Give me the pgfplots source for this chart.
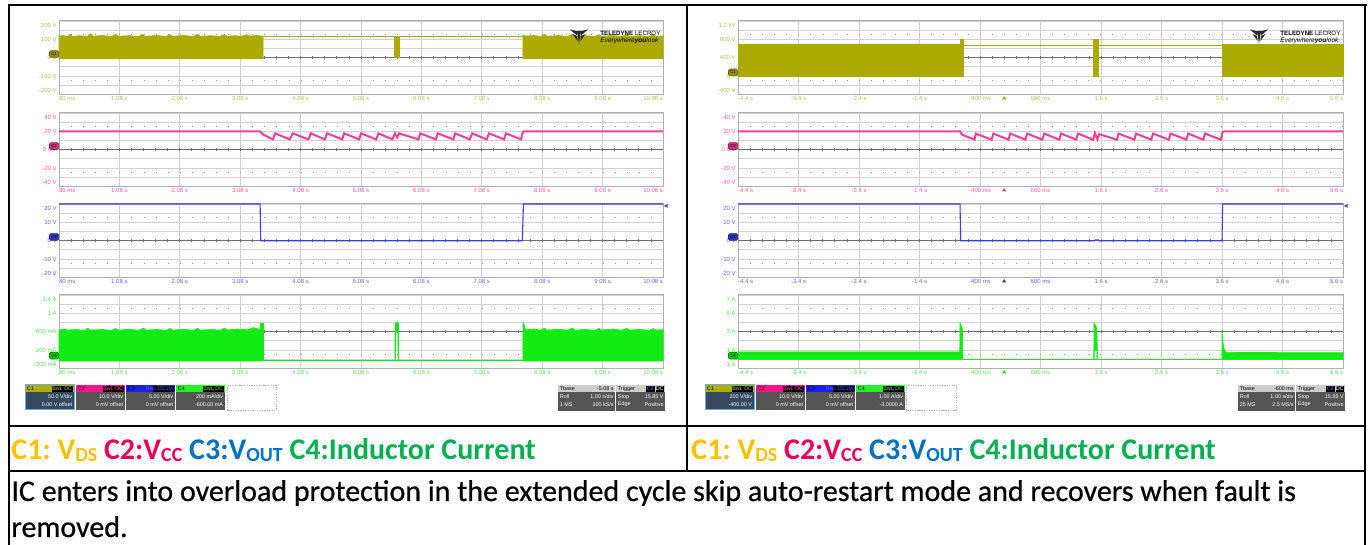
\documentclass[border=0pt]{standalone}
\usepackage{pgfplots}
\pgfplotsset{compat=1.18}
\usepackage{graphicx}
\usepackage{fontspec}
\setmainfont{Carlito}
\newfontfamily\capfont{Carlito}[FakeBold=0.6]
\newfontfamily\scopefont{Liberation Sans}

\definecolor{c1t}{RGB}{170,170,0}
\definecolor{c2t}{RGB}{245,60,150}
\definecolor{c3t}{RGB}{60,60,230}
\definecolor{c4t}{RGB}{20,235,20}
\definecolor{c1l}{RGB}{185,185,90}
\definecolor{c2l}{RGB}{250,90,165}
\definecolor{c3l}{RGB}{100,100,235}
\definecolor{c4l}{RGB}{90,225,90}
\definecolor{gridc}{RGB}{208,208,208}
\definecolor{framec}{RGB}{175,175,175}
\definecolor{centc}{RGB}{110,110,110}
\definecolor{dotc}{RGB}{150,150,150}
\definecolor{legY}{RGB}{255,192,0}
\definecolor{legP}{RGB}{232,0,94}
\definecolor{legB}{RGB}{0,112,192}
\definecolor{legG}{RGB}{0,176,80}
\definecolor{hdrgray}{RGB}{205,205,205}
\definecolor{bodygray}{RGB}{85,85,85}
\definecolor{selbody}{RGB}{52,73,94}
\definecolor{selc}{RGB}{110,170,230}
\definecolor{h1}{RGB}{175,175,0}
\definecolor{h2}{RGB}{255,20,140}
\definecolor{h3}{RGB}{30,30,235}
\definecolor{h4}{RGB}{40,240,40}

\newcommand{\tk}{\scopefont\fontsize{3}{3}\selectfont}
\newcommand{\bx}{\scopefont\fontsize{2.7}{2.7}\selectfont}
\newcommand{\yl}[1]{\raisebox{-1.05pt}[0pt][0pt]{#1}}
\newcommand{\ylT}[1]{\raisebox{-3.5pt}[0pt][0pt]{#1}}
\newcommand{\ylB}[1]{\raisebox{0.95pt}[0pt][0pt]{#1}}
\newcommand{\sub}[1]{\raisebox{-1.2pt}{\fontsize{10}{10}\selectfont #1}}
\newcommand{\legline}{\textcolor{legY}{C1:\ V\sub{DS}} \textcolor{legP}{C2:V\sub{CC}} \textcolor{legB}{C3:V\sub{OUT}} \textcolor{legG}{C4:Inductor Current}}

\tikzset{badge/.style={draw=#1!55!black, fill=#1!85!black, rounded corners=0.7pt, line width=0.3pt, minimum width=4.6pt, minimum height=3.4pt, inner sep=0pt, font=\scopefont\fontsize{2.2}{2.2}\selectfont, text=black, anchor=south east}}

\pgfplotsset{
 scopeaxis/.style={
   scale only axis, height=36.75pt, anchor=north west, clip=false,
   axis line style={framec, line width=0.5pt},
   grid=major, major grid style={gridc, line width=0.45pt},
   major tick length=0pt, minor tick length=0pt,
   xticklabel style={font=\tk, text=#1, inner sep=0.9pt, anchor=north},
   yticklabel style={font=\tk, text=#1, inner sep=1pt, anchor=east},
 },
 leftT/.style={width=302pt, xmin=0.08, xmax=10.08,
   xtick={0.08,1.08,2.08,3.08,4.08,5.08,6.08,7.08,8.08,9.08,10.08},
   xticklabels={{\rlap{80 ms}},1.08 s,2.08 s,3.08 s,4.08 s,5.08 s,6.08 s,7.08 s,8.08 s,9.08 s,{\llap{10.08 s}}}},
 rightT/.style={width=302.5pt, xmin=-4.4, xmax=5.6,
   xtick={-4.4,-3.4,-2.4,-1.4,-0.4,0.6,1.6,2.6,3.6,4.6,5.6},
   xticklabels={{\rlap{-4.4 s}},-3.4 s,-2.4 s,-1.4 s,-400 ms,600 ms,1.6 s,2.6 s,3.6 s,4.6 s,{\llap{5.6 s}}}},
}

\newcommand{\scopegrid}{%
 \draw[dotc, line width=0.55pt, dash pattern=on 0.5pt off 5.54pt] (rel axis cs:0,0.1875) -- (rel axis cs:1,0.1875);
 \draw[dotc, line width=0.55pt, dash pattern=on 0.5pt off 5.54pt] (rel axis cs:0,0.8125) -- (rel axis cs:1,0.8125);
 \draw[centc, line width=0.45pt] (rel axis cs:0,0.5) -- (rel axis cs:1,0.5);
 \pgfplotsinvokeforeach{1,...,49}{\draw[centc, line width=0.4pt] (rel axis cs:##1/50,0.5) ++(0pt,-0.8pt) -- ++(0pt,1.6pt);}
}
\newcommand{\trig}[2]{\fill[#1] (axis cs:0,#2) ++(0pt,-0.8pt) -- ++(-1.1pt,-1.6pt) -- ++(2.2pt,0pt) -- cycle;}
\newcommand{\lvl}[2]{\fill[c3t] (axis cs:#1,#2) ++(0.5pt,0pt) -- ++(1.8pt,1pt) -- ++(0pt,-2pt) -- cycle;}

% channel box: #1 x, #2 header colour, #3 name, #4 badge, #5 line1, #6 line2, #7 body colour
\newcommand{\chbox}[7]{%
 \fill[#7] (#1,392) rectangle (#1+49,410);
 \fill[#2] (#1,385) rectangle (#1+49,392.5);
 \node[anchor=west, inner sep=0, font=\bx, text=black] at (#1+1.5,388.7) {#3};
 \fill[black] (#1+27,385.8) rectangle (#1+48.2,391.7);
 \node[anchor=east, inner sep=0, font=\bx, text=#2!75!white] at (#1+47.5,388.7) {#4};
 \node[anchor=east, inner sep=0, font=\bx, text=white] at (#1+47.5,397) {#5};
 \node[anchor=east, inner sep=0, font=\bx, text=white] at (#1+47.5,404.5) {#6};
}
% timebase + trigger: #1 x, #2 tbase, #3 row2 left, #4 row2 right
\newcommand{\tbox}[4]{%
 \fill[hdrgray] (#1,385) rectangle (#1+57,392.5);
 \fill[bodygray] (#1,392.5) rectangle (#1+57,411);
 \node[anchor=west, inner sep=0, font=\bx, text=black] at (#1+1.5,388.7) {Tbase};
 \node[anchor=east, inner sep=0, font=\bx, text=black] at (#1+56,388.7) {#2};
 \node[anchor=west, inner sep=0, font=\bx, text=white] at (#1+1.5,397) {Roll};
 \node[anchor=east, inner sep=0, font=\bx, text=white] at (#1+56,397) {1.00 s/div};
 \node[anchor=west, inner sep=0, font=\bx, text=white] at (#1+1.5,404.5) {#3};
 \node[anchor=east, inner sep=0, font=\bx, text=white] at (#1+56,404.5) {#4};
 \fill[hdrgray] (#1+58,385) rectangle (#1+107,392.5);
 \fill[bodygray] (#1+58,392.5) rectangle (#1+107,411);
 \node[anchor=west, inner sep=0, font=\bx, text=black] at (#1+59.5,388.7) {Trigger};
 \fill[black] (#1+88,385.8) rectangle (#1+96.5,391.7);
 \fill[black] (#1+97.5,385.8) rectangle (#1+106,391.7);
 \node[inner sep=0, font=\bx, text=h3!60!white] at (#1+92.2,388.7) {C3};
 \node[inner sep=0, font=\bx, text=white] at (#1+101.7,388.7) {DC};
 \node[anchor=west, inner sep=0, font=\bx, text=white] at (#1+59.5,397) {Stop};
 \node[anchor=east, inner sep=0, font=\bx, text=white] at (#1+106,397) {15.85 V};
 \node[anchor=west, inner sep=0, font=\bx, text=white] at (#1+59.5,404.5) {Edge};
 \node[anchor=east, inner sep=0, font=\bx, text=white] at (#1+106,404.5) {Positive};
}
% logo: #1 = x of mark
\newcommand{\logo}[1]{%
 \fill[black!85] (#1,29.5) -- (#1+8,31.5) -- (#1+7,35.5) -- cycle;
 \fill[black!85] (#1+18,29.5) -- (#1+10,31.5) -- (#1+11,35.5) -- cycle;
 \fill[black!85] (#1+7.2,31) -- (#1+10.8,31) -- (#1+9,44) -- cycle;
 \fill[black!85] (#1+2.5,34) -- (#1+7,36) -- (#1+7.6,41) -- cycle;
 \fill[black!85] (#1+15.5,34) -- (#1+11,36) -- (#1+10.4,41) -- cycle;
 \node[anchor=west, inner sep=0] at (#1+30,33) {\resizebox{30pt}{!}{\scopefont\textbf{TELEDYNE} LECROY}};
 \node[anchor=west, inner sep=0] at (#1+30,40.5) {\resizebox{29pt}{!}{\scopefont\itshape Everywhere\textbf{you}look}};
}

\begin{document}
\begin{tikzpicture}
\path[use as bounding box] (0,0) rectangle (686pt,-272.5pt);
\fill[white] (0,0) rectangle (686pt,-272.5pt);

%================ LEFT PANEL =================
% C1
\begin{axis}[scopeaxis=c1l, leftT, at={(29.5pt,-10.5pt)}, ymin=-200, ymax=200,
  ytick={-200,-150,...,200}, yticklabels={{\ylB{-200 V}},,{\yl{-100 V}},,{\yl{0 V}},,{\yl{100 V}},,{\ylT{200 V}}}]
\scopegrid
\addplot[fill=c1t, draw=c1t, line width=0.3pt] coordinates {(0.08,-6)(0.08,118)(0.15,121)(0.22,116)(0.26,128)(0.30,117)(0.42,120)(0.55,116)(0.60,131)(0.64,117)(0.80,121)(0.95,116)(1.02,127)(1.06,117)(1.25,120)(1.40,115)(1.46,129)(1.50,117)(1.70,121)(1.85,116)(1.92,126)(1.96,117)(2.15,121)(2.30,116)(2.38,128)(2.42,117)(2.60,120)(2.75,116)(2.82,127)(2.86,117)(3.00,120)(3.10,116)(3.18,126)(3.22,118)(3.35,121)(3.46,118)(3.46,-6)} -- cycle;
\addplot[c1t, line width=0.55pt] coordinates {(3.46,117)(5.64,117)(5.64,0)(5.71,0)(5.71,117)(7.76,117)};
\addplot[fill=c1t, draw=c1t, line width=0.3pt] coordinates {(5.64,0)(5.64,117)(5.71,117)(5.71,0)} -- cycle;
\addplot[fill=c1t, draw=c1t, line width=0.3pt] coordinates {(7.76,-6)(7.76,125)(7.80,118)(7.95,121)(8.05,116)(8.12,127)(8.16,117)(8.35,121)(8.50,116)(8.58,128)(8.62,117)(8.80,120)(8.95,116)(9.02,126)(9.06,117)(9.25,121)(9.40,116)(9.48,127)(9.52,117)(9.70,120)(9.85,116)(9.92,126)(9.96,117)(10.08,119)(10.08,-6)} -- cycle;
\node[badge=c1t] at (rel axis cs:0,0.5) {C1};
\end{axis}
% C2
\begin{axis}[scopeaxis=c2l, leftT, at={(29.5pt,-56.5pt)}, ymin=-40, ymax=40,
  ytick={-40,-30,...,40}, yticklabels={{\ylB{-40 V}},,{\yl{-20 V}},,{\yl{0 mV}},,{\yl{20 V}},,{\ylT{40 V}}}]
\scopegrid
\addplot[c2t, line width=1pt] coordinates {(0.08,20)(3.41,20)(3.46,16.5)(3.62,11.3)(3.66,17.8)(3.90,11.3)(3.95,17.8)(4.21,11.3)(4.25,17.8)(4.48,11.3)(4.52,17.8)(4.77,11.3)(4.80,17.8)(5.05,11.3)(5.08,17.8)(5.33,11.3)(5.37,17.8)(5.60,11.3)(5.64,17.8)(5.68,13.5)(5.71,17.8)(6.03,11.3)(6.06,17.8)(6.32,11.3)(6.35,17.8)(6.61,11.3)(6.64,17.8)(6.88,11.3)(6.92,17.8)(7.16,11.3)(7.20,17.8)(7.45,11.3)(7.48,17.8)(7.73,11.3)(7.75,17)(7.77,20)(10.08,20)};
\node[badge=c2t] at (rel axis cs:0,0.5) {C2};
\end{axis}
% C3
\begin{axis}[scopeaxis=c3l, leftT, at={(29.5pt,-102pt)}, ymin=-20, ymax=20,
  ytick={-20,-15,...,20}, yticklabels={{\ylB{-20 V}},,{\yl{-10 V}},,{\yl{0 V}},,{\yl{10 V}},,{\ylT{20 V}}}]
\scopegrid
\addplot[c3t, line width=0.55pt] coordinates {(0.08,20)(3.41,20)(3.42,0)(7.75,0)(7.77,20)(10.08,20)};
\node[badge=c3t] at (rel axis cs:0,0.5) {C3};
\lvl{10.08}{19}
\end{axis}
% C4
\begin{axis}[scopeaxis=c4l, leftT, at={(29.5pt,-147.5pt)}, ymin=-200, ymax=1400,
  ytick={-200,0,...,1400}, yticklabels={{\ylB{-200 mA}},,{\yl{200 mA}},,{\yl{600 mA}},,{\yl{1 A}},,{\ylT{1.4 A}}}]
\scopegrid
\addplot[fill=c4t, draw=c4t, line width=0.3pt] coordinates {(0.08,-40)(0.08,640)(0.18,660)(0.22,635)(0.35,650)(0.50,630)(0.56,675)(0.60,635)(0.80,650)(0.95,630)(1.02,670)(1.06,635)(1.25,655)(1.40,630)(1.48,680)(1.52,635)(1.70,650)(1.85,630)(1.92,670)(1.96,635)(2.15,655)(2.30,630)(2.38,675)(2.42,635)(2.60,650)(2.75,630)(2.82,680)(2.86,640)(3.05,660)(3.20,640)(3.30,690)(3.41,650)(3.41,-40)} -- cycle;
\addplot[fill=c4t, draw=c4t, line width=0.3pt] coordinates {(3.42,-20)(3.42,790)(3.46,790)(3.46,-20)} -- cycle;
\addplot[c4t, line width=0.5pt] coordinates {(3.46,-15)(7.76,-15)};
\addplot[fill=c4t, draw=c4t, line width=0.3pt] coordinates {(5.64,-15)(5.645,795)(5.70,795)(5.705,-15)(5.695,-15)(5.69,600)(5.655,600)(5.65,-15)} -- cycle;
\addplot[fill=c4t, draw=c4t, line width=0.3pt] coordinates {(7.76,-40)(7.76,800)(7.78,760)(7.80,650)(7.95,660)(8.05,632)(8.12,675)(8.16,635)(8.35,655)(8.50,632)(8.58,680)(8.62,636)(8.80,650)(8.95,630)(9.02,672)(9.06,636)(9.25,658)(9.40,632)(9.48,676)(9.52,636)(9.70,652)(9.85,630)(9.92,670)(9.96,636)(10.08,645)(10.08,-40)} -- cycle;
\node[badge=c4t] at (rel axis cs:0,0.125) {C4};
\end{axis}

%================ RIGHT PANEL =================
% C1
\begin{axis}[scopeaxis=c1l, rightT, at={(369pt,-10.5pt)}, ymin=-400, ymax=1200,
  ytick={-400,-200,...,1200}, yticklabels={{\ylB{-400 V}},,{\yl{0 V}},,{\yl{400 V}},,{\yl{800 V}},,{\ylT{1.2 kV}}}]
\scopegrid
\addplot[fill=c1t, draw=c1t, line width=0.3pt] coordinates {(-4.4,-5)(-4.4,700)(-0.73,700)(-0.73,810)(-0.675,810)(-0.675,-5)} -- cycle;
\addplot[c1t, line width=0.55pt] coordinates {(-0.675,670)(1.48,670)};
\addplot[fill=c1t, draw=c1t, line width=0.3pt] coordinates {(1.48,0)(1.48,810)(1.56,810)(1.56,0)} -- cycle;
\addplot[c1t, line width=0.55pt] coordinates {(1.56,670)(3.605,670)};
\addplot[fill=c1t, draw=c1t, line width=0.3pt] coordinates {(3.605,-5)(3.605,700)(5.6,700)(5.6,-5)} -- cycle;
\node[badge=c1t] at (rel axis cs:0,0.25) {C1};
\trig{c1t}{-400}
\end{axis}
% C2
\begin{axis}[scopeaxis=c2l, rightT, at={(369pt,-56.5pt)}, ymin=-40, ymax=40,
  ytick={-40,-30,...,40}, yticklabels={{\ylB{-40 V}},,{\yl{-20 V}},,{\yl{0 mV}},,{\yl{20 V}},,{\ylT{40 V}}}]
\scopegrid
\addplot[c2t, line width=1pt] coordinates {(-4.4,20)(-0.73,20)(-0.70,16.5)(-0.49,11)(-0.47,17.6)(-0.21,11)(-0.18,17.6)(0.07,11)(0.10,17.6)(0.35,11)(0.38,17.6)(0.63,11)(0.66,17.6)(0.91,11)(0.94,17.6)(1.19,11)(1.22,17.6)(1.47,11)(1.50,18)(1.54,11.5)(1.57,17)(1.86,11)(1.89,17.6)(2.15,11)(2.18,17.6)(2.43,11)(2.46,17.6)(2.72,11)(2.75,17.6)(3.01,11)(3.04,17.6)(3.29,11)(3.32,17.6)(3.58,11)(3.61,19.5)(3.65,20)(5.6,20)};
\node[badge=c2t] at (rel axis cs:0,0.5) {C2};
\trig{c2t}{-40}
\end{axis}
% C3
\begin{axis}[scopeaxis=c3l, rightT, at={(369pt,-102pt)}, ymin=-20, ymax=20,
  ytick={-20,-15,...,20}, yticklabels={{\ylB{-20 V}},,{\yl{-10 V}},,{\yl{0 V}},,{\yl{10 V}},,{\ylT{20 V}}}]
\scopegrid
\addplot[c3t, line width=0.55pt] coordinates {(-4.4,20)(-0.73,20)(-0.72,0)(1.49,0)(1.50,0.4)(1.56,0.4)(1.57,0)(3.60,0)(3.61,20)(5.6,20)};
\node[badge=c3t] at (rel axis cs:0,0.5) {C3};
\lvl{5.6}{19}
\trig{c3t}{-20}
\end{axis}
% C4
\begin{axis}[scopeaxis=c4l, rightT, at={(369pt,-147.5pt)}, ymin=-1, ymax=7,
  ytick={-1,0,...,7}, yticklabels={{\ylB{-1 A}},,{\yl{1 A}},,{\yl{3 A}},,{\yl{5 A}},,{\ylT{7 A}}}]
\scopegrid
\addplot[fill=c4t, draw=c4t, line width=0.3pt] coordinates {(-4.4,-0.03)(-4.4,0.8)(-0.735,0.8)(-0.73,3.95)(-0.715,3.75)(-0.70,3.5)(-0.69,3.2)(-0.685,-0.03)} -- cycle;
\addplot[c4t, line width=0.5pt] coordinates {(-0.685,-0.02)(3.6,-0.02)};
\addplot[fill=c4t, draw=c4t, line width=0.3pt] coordinates {(1.48,-0.02)(1.483,3.95)(1.50,3.8)(1.53,3.4)(1.54,1)(1.545,-0.02)(1.535,-0.02)(1.53,1.0)(1.49,1.0)(1.487,-0.02)} -- cycle;
\addplot[fill=c4t, draw=c4t, line width=0.3pt] coordinates {(3.6,-0.03)(3.6,3.0)(3.61,2.2)(3.625,1.4)(3.64,1.0)(3.67,0.75)(5.6,0.72)(5.6,-0.03)} -- cycle;
\node[badge=c4t] at (rel axis cs:0,0.125) {C4};
\trig{c4t}{-1}
\end{axis}

%================ TABLE, BOXES, TEXT =================
\begin{scope}[x=0.5pt,y=-0.5pt]
\logo{570}
\logo{1250}
% left boxes
\chbox{25}{h1}{C1}{BwL DC}{50.0 V/div}{0.00 V offset}{selbody}
\draw[selc, line width=0.5pt] (25,385) rectangle (74,410);
\chbox{76}{h2}{C2}{BwL DC}{10.0 V/div}{0 mV offset}{bodygray}
\chbox{126}{h3}{C3}{BwL DC1M}{5.00 V/div}{0 mV offset}{bodygray}
\chbox{176}{h4}{C4}{BwL DC}{200 mA/div}{-600.00 mA}{bodygray}
\draw[gray!60, line width=0.3pt, dash pattern=on 0.6pt off 0.6pt] (227,385) rectangle (276,410);
\tbox{558}{-5.08 s}{1 MS}{100 kS/s}
% right boxes
\chbox{705}{h1}{C1}{BwL DC}{200 V/div}{-400.00 V}{selbody}
\draw[selc, line width=0.5pt] (705,385) rectangle (754,410);
\chbox{756}{h2}{C2}{BwL DC}{10.0 V/div}{0 mV offset}{bodygray}
\chbox{806}{h3}{C3}{BwL DC1M}{5.00 V/div}{0 mV offset}{bodygray}
\chbox{856}{h4}{C4}{BwL DC}{1.00 A/div}{-3.0000 A}{bodygray}
\draw[gray!60, line width=0.3pt, dash pattern=on 0.6pt off 0.6pt] (906,385) rectangle (956,410);
\tbox{1238}{-600 ms}{25 MS}{2.5 MS/s}
% table lines
\draw[black, line width=1pt] (8,5.5) -- (1366.5,5.5);
\draw[black, line width=1pt] (9,5) -- (9,545);
\draw[black, line width=1.2pt] (1365,5) -- (1365,545);
\draw[black, line width=1.4pt] (687,5) -- (687,471);
\draw[black, line width=1pt] (8,426) -- (1366,426);
\draw[black, line width=1pt] (8,471) -- (1366,471);
% legend row
\node[anchor=base west, inner sep=0, font=\fontsize{15}{18}\selectfont\bfseries] at (11,459.3) {\legline};
\node[anchor=base west, inner sep=0, font=\fontsize{15}{18}\selectfont\bfseries] at (691,459.3) {\legline};
% caption text
\node[anchor=base west, inner sep=0, font=\capfont\fontsize{15}{18}\selectfont] at (11,501) {IC enters into overload protection in the extended cycle skip auto-restart mode and recovers when fault is};
\node[anchor=base west, inner sep=0, font=\capfont\fontsize{15}{18}\selectfont] at (11,537) {removed.};
\end{scope}
\end{tikzpicture}
\end{document}
